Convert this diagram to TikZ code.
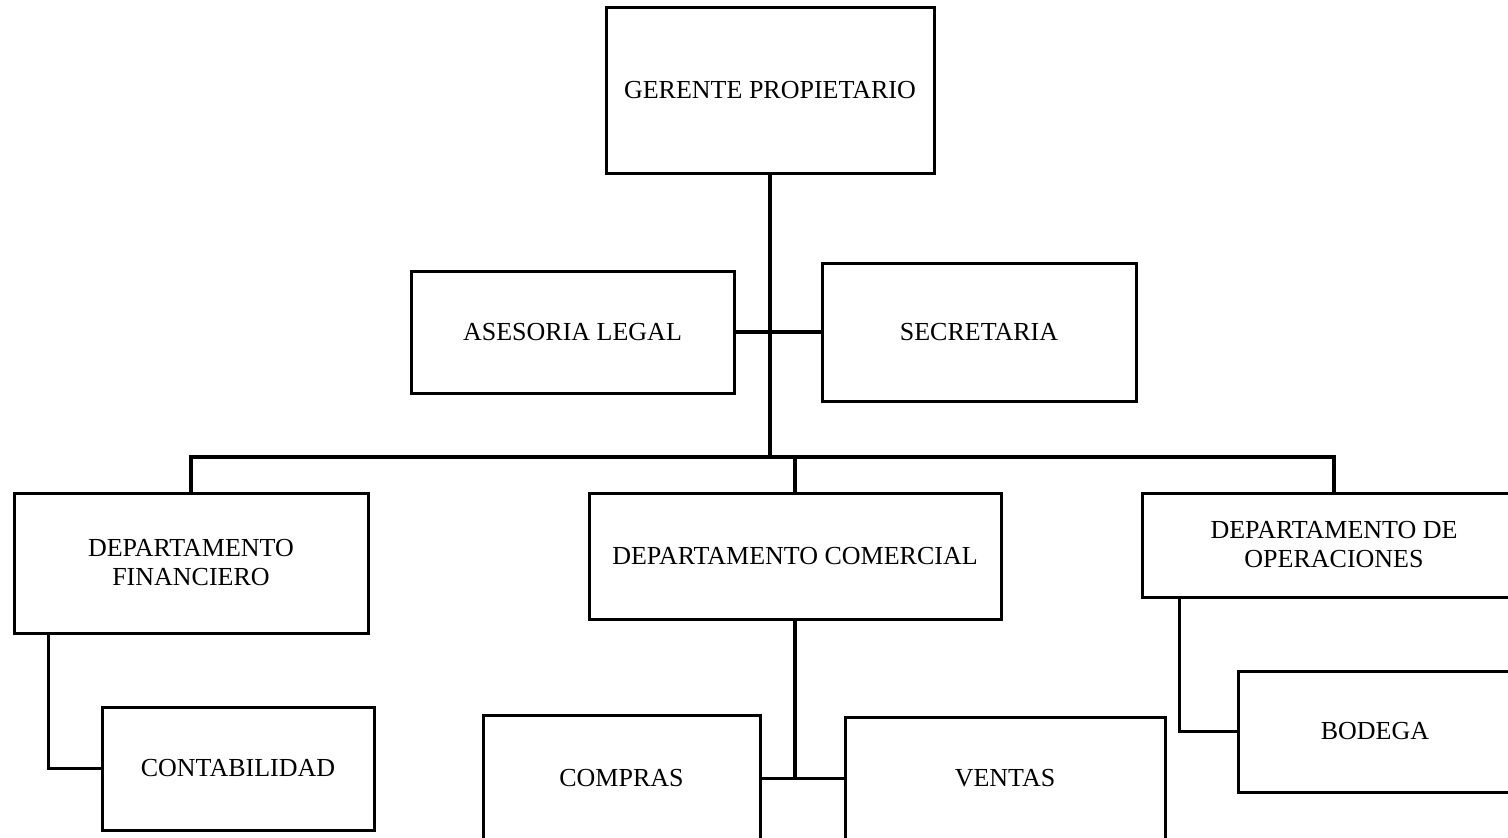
\documentclass[tikz,border=0pt]{standalone}
\usepackage{fontspec}
\setmainfont{Liberation Serif}

\begin{document}
\begin{tikzpicture}[x=1pt, y=-1pt]
    \useasboundingbox (0,0) rectangle (1508,838);
    \clip (0,0) rectangle (1508,838);

    \tikzstyle{rect} = [rectangle, text centered, align=center, draw=black, line width=3pt, inner sep=0pt, font=\fontsize{26}{29}\selectfont]
    \tikzstyle{line} = [line width=3.2pt]

            % node[Optionen](Name){Inhalt}
            \node (Gerente_Propietario) [rect, minimum width=328pt, minimum height=166pt] at (770,90) {GERENTE PROPIETARIO};

            \node (Asesoria_Legal) [rect, minimum width=323pt, minimum height=122pt] at (572.5,332) {ASESORIA LEGAL};
            \node (Secretaria) [rect, minimum width=314pt, minimum height=138pt] at (979,332) {SECRETARIA};

            \coordinate (Bus) at (770,457);

            \node (Dep_Financiero) [rect, minimum width=354pt, minimum height=140pt] at (191,563) {DEPARTAMENTO\\FINANCIERO};
            \node (Dep_Comercial) [rect, minimum width=412pt, minimum height=126pt] at (795,556) {DEPARTAMENTO COMERCIAL};
            \node (Dep_Operaciones) [rect, minimum width=384pt, minimum height=104pt] at (1334,545) {DEPARTAMENTO DE\\OPERACIONES};

            \node (Contabilidad) [rect, minimum width=272pt, minimum height=123pt] at (238,768.5) {CONTABILIDAD};

            \coordinate (Split_Comercial) at (795,778.5);
            \node (Compras) [rect, minimum width=277pt, minimum height=127pt] at (621.5,778.5) {COMPRAS};
            \node (Ventas) [rect, minimum width=320pt, minimum height=122pt] at (1005,778.5) {VENTAS};

            \node (Bodega) [rect, minimum width=274pt, minimum height=121pt] at (1375,731.5) {BODEGA};

            % ----- ----- ----- ----- ----- ----- ----- ----- ----- ----- ----- ----- ----- -----

            \draw [line] (Gerente_Propietario) -- (Bus);
            \draw [line] (Asesoria_Legal.east) -- (Secretaria.west);
            \draw [line] (Dep_Financiero.north) |- (Bus) -| (Dep_Operaciones.north);
            \draw [line] (Dep_Comercial.north) -- (Dep_Comercial.north |- Bus);
            \draw [line] ([xshift=36pt]Dep_Financiero.south west) |- (Contabilidad.west);
            \draw [line] ([xshift=39pt]Dep_Operaciones.south west) |- (Bodega.west);
            \draw [line] (Dep_Comercial.south) -- (Split_Comercial);
            \draw [line] (Compras.east) -- (Ventas.west);
\end{tikzpicture}
\end{document}
